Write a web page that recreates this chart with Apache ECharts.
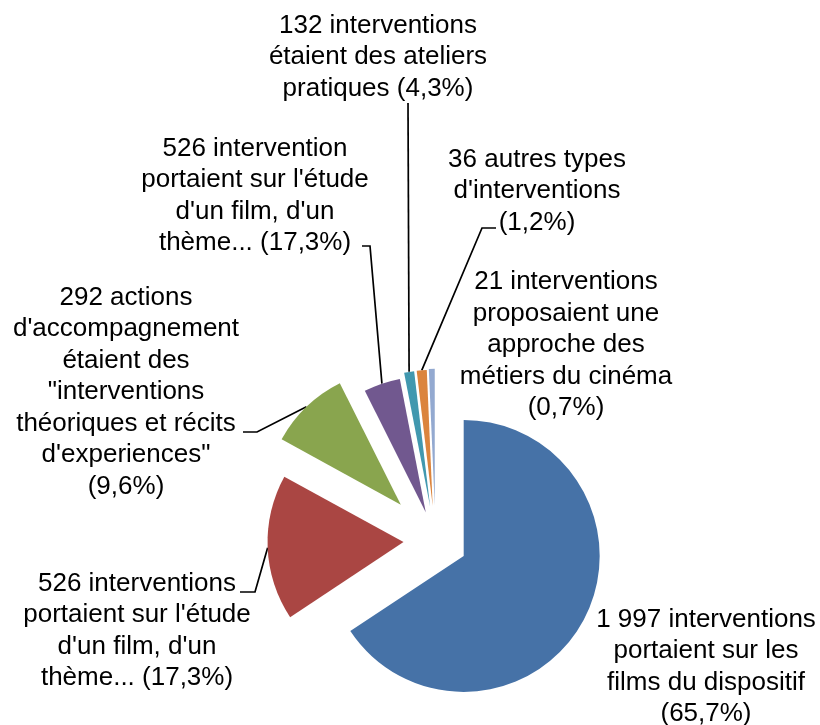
<!DOCTYPE html>
<html lang="fr">
<head>
  <meta charset="UTF-8">
  <title>Interventions</title>
  <script src="https://cdn.jsdelivr.net/npm/echarts@6/dist/echarts.min.js"></script>
</head>
<body style="margin:0;background:#fff;">
  <div id="main" style="width:820px;height:725px;"></div>
  <script>
    // slice values (clockwise from 12 o'clock)
    const values = [1997, 526, 292, 132, 36, 36, 21];
    const colors = ['#4672A7', '#AA4643', '#89A54E', '#71588F', '#4198AF', '#DB843D', '#93A9D0'];
    const labels = [
      '1 997 interventions\nportaient sur les\nfilms du dispositif\n(65,7%)',
      "526 interventions\nportaient sur l'étude\nd'un film, d'un\nthème... (17,3%)",
      "292 actions\nd'accompagnement\nétaient des\n\"interventions\nthéoriques et récits\nd'experiences\"\n(9,6%)",
      "526 intervention\nportaient sur l'étude\nd'un film, d'un\nthème... (17,3%)",
      '132 interventions\nétaient des ateliers\npratiques (4,3%)',
      "36 autres types\nd'interventions\n(1,2%)",
      '21 interventions\nproposaient une\napproche des\nmétiers du cinéma\n(0,7%)'
    ];
    // how far each slice is pulled out (px)
    const explode = [32, 32, 50, 30, 35, 35, 36];

    // label block centres and leader line bends
    const labelPos = [
      { x: 706, y: 667, line: null },
      { x: 137, y: 631, line: [[255, 592], [240, 592]] },
      { x: 126, y: 392, line: [[257, 432], [243, 432]] },
      { x: 255, y: 196, line: [[370, 246], [362, 246]] },
      { x: 378, y: 57, line: [[408, 103]] },
      { x: 537, y: 191, line: [[482, 228], [496, 228]] },
      { x: 566, y: 345, line: null }
    ];

    const cx = 435.5, cy = 540.8;
    const total = values.reduce((a, b) => a + b, 0);

    // exploded slice: shift the whole pie along the slice's bisector
    let acc = 0;
    const centers = values.map((v, i) => {
      const mid = (acc + v / 2) / total * Math.PI * 2;
      acc += v;
      return [cx + explode[i] * Math.sin(mid), cy - explode[i] * Math.cos(mid)];
    });

    const myChart = echarts.init(document.getElementById('main'));

    const series = values.map((v, i) => ({
      type: 'pie',
      center: centers[i],
      radius: 136,
      startAngle: 90,
      clockwise: true,
      avoidLabelOverlap: false,
      minShowLabelAngle: 0,
      emphasis: { disabled: true },
      silent: true,
      animation: false,
      label: {
        show: false,
        position: 'outside',
        overflow: 'none',
        color: '#000',
        fontFamily: 'Liberation Sans, Arial, sans-serif',
        fontSize: 26,
        lineHeight: 31.5,
        formatter: () => labels[i]
      },
      labelLine: {
        show: false,
        lineStyle: { color: '#000', width: 1.7 }
      },
      labelLayout: function (params) {
        const p = labelPos[i];
        const res = { x: p.x, y: p.y, align: 'center', verticalAlign: 'middle' };
        if (p.line && params.labelLinePoints) {
          res.labelLinePoints = [params.labelLinePoints[0]].concat(p.line);
        }
        return res;
      },
      data: values.map((val, j) => ({
        value: val,
        itemStyle: {
          color: j === i ? colors[j] : 'rgba(0,0,0,0)',
          borderWidth: 0
        },
        label: { show: j === i },
        labelLine: { show: j === i && labelPos[j].line !== null }
      }))
    }));

    myChart.setOption({
      backgroundColor: '#fff',
      series: series
    });
  </script>
</body>
</html>
